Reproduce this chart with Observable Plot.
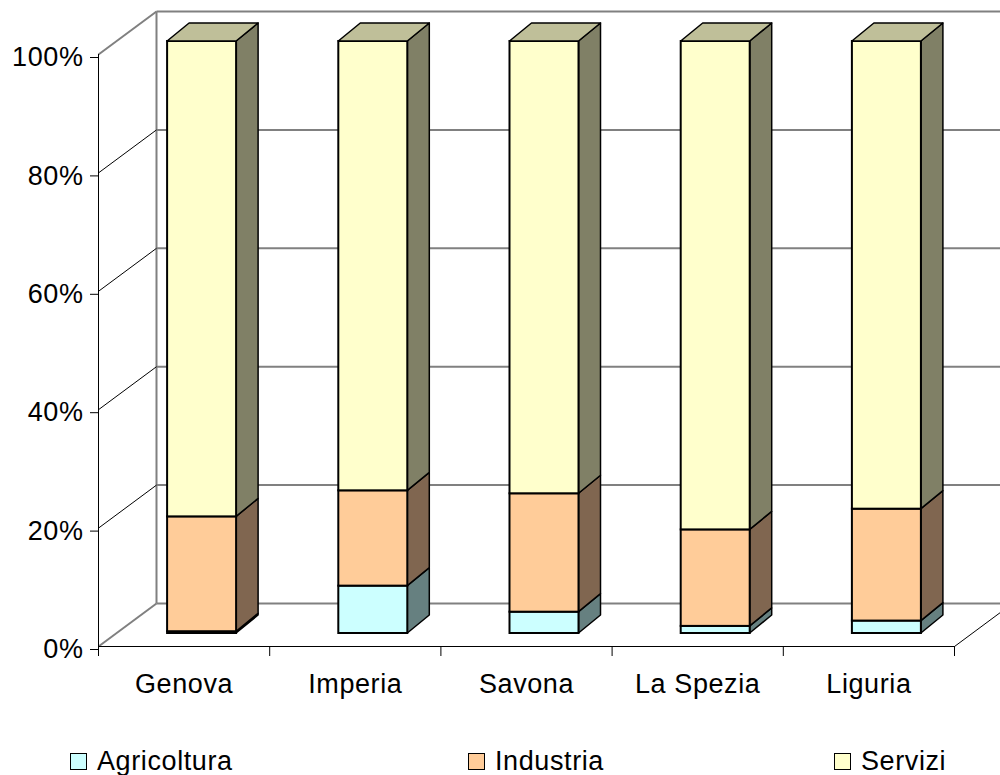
<!DOCTYPE html>
<html>
<head>
<meta charset="utf-8">
<script src="https://cdn.jsdelivr.net/npm/d3@7"></script>
<script src="https://cdn.jsdelivr.net/npm/@observablehq/plot@0.6"></script>
<style>
  html, body { margin: 0; padding: 0; background: #fff; overflow: hidden; }
  #chart svg text, #legend text { letter-spacing: 0.6px; }
</style>
</head>
<body>
<div id="chart"></div>
<div id="legend"></div>
<script>
// Occupati per settore di attività (composizione percentuale)
const regions = ["Genova", "Imperia", "Savona", "La Spezia", "Liguria"];
const sectors = ["Agricoltura", "Industria", "Servizi"];
const agricoltura = [0.3, 8.0, 3.6, 1.2, 2.1];
const industria = [19.4, 16.1, 20.0, 16.3, 18.9];
const servizi = [80.3, 75.9, 76.4, 82.5, 79.0];
const yTicks = [0, 20, 40, 60, 80, 100];

// Face shades: front, right side (darker), top (mid)
const frontColors = ["#CCFFFF", "#FFCC99", "#FFFFCC"];
const sideColors = ["#668080", "#806650", "#808066"];
const topColors = ["#99BFBF", "#BF9973", "#BFBF99"];

// Layout
const W = 1000, H = 740, ML = 98, MR = 46, MT = 54, MB = 94;
const FONT = "'Liberation Sans', Arial, sans-serif";

// Pixel offsets of the 3D projection expressed in data units
const ux = regions.length / (W - ML - MR);
const uy = 100 / (H - MT - MB);
const wall = {dx: 58 * ux, dy: 43 * uy};      // floor/back-wall depth
const face = {dx: 18 * ux, dy: 13 * uy};      // bar front plane
const depth = {dx: 22 * ux, dy: 18 * uy};     // bar thickness
const barW = 69 * ux;

// 100% stacked segments
const series = [agricoltura, industria, servizi];
const segments = [];
regions.forEach((r, i) => {
  const total = series.reduce((s, arr) => s + arr[i], 0);
  let acc = 0;
  series.forEach((arr, k) => {
    const v = arr[i] / total * 100;
    const cx = i + 0.5 + face.dx;
    segments.push({
      i, k, region: r, sector: sectors[k],
      xl: cx - barW / 2, xr: cx + barW / 2,
      lo: acc + face.dy, hi: acc + v + face.dy
    });
    acc += v;
  });
});

// Right-hand side faces (parallelograms with vertical edges)
const sideRows = segments.flatMap(s => [
  {key: `${s.i}-${s.k}`, k: s.k, x: s.xr, y1: s.lo, y2: s.hi},
  {key: `${s.i}-${s.k}`, k: s.k, x: s.xr + depth.dx, y1: s.lo + depth.dy, y2: s.hi + depth.dy}
]);
// Top faces of the stacks (parallelograms with horizontal edges)
const topRows = segments.filter(s => s.k === sectors.length - 1).flatMap(s => [
  {key: s.i, y: s.hi, x1: s.xl, x2: s.xr},
  {key: s.i, y: s.hi + depth.dy, x1: s.xl + depth.dx, x2: s.xr + depth.dx}
]);

const bounds = d3.range(regions.length + 1);
const centers = regions.map((_, i) => i + 0.5);
const inner = yTicks.filter(t => t > 0 && t < 100);
const edges = [0, 100];

const chart = Plot.plot({
  width: W, height: H,
  marginLeft: ML, marginRight: MR, marginTop: MT, marginBottom: MB,
  style: `font-family: ${FONT}; font-size: 27px; color: black; background: white;`,
  x: {type: "linear", domain: [0, regions.length], axis: null},
  y: {type: "linear", domain: [0, 100], axis: null},
  marks: [
    // back wall gridlines
    Plot.link(yTicks, {x1: wall.dx, x2: regions.length + wall.dx, y1: d => d + wall.dy, y2: d => d + wall.dy, stroke: "#808080", strokeWidth: 2}),
    Plot.link([0], {x1: wall.dx, x2: wall.dx, y1: wall.dy, y2: 100 + wall.dy, stroke: "#808080", strokeWidth: 2}),
    // side wall gridlines
    Plot.link(inner, {x1: 0, x2: wall.dx, y1: d => d, y2: d => d + wall.dy, stroke: "black", strokeWidth: 1}),
    Plot.link(edges, {x1: 0, x2: wall.dx, y1: d => d, y2: d => d + wall.dy, stroke: "#808080", strokeWidth: 2}),
    // floor front and right edges
    Plot.link([0], {x1: 0, x2: regions.length, y1: 0, y2: 0, stroke: "black", strokeWidth: 1.2}),
    Plot.link([0], {x1: regions.length, x2: regions.length + wall.dx, y1: 0, y2: wall.dy, stroke: "black", strokeWidth: 1}),
    // value axis
    Plot.ruleX([0], {y1: 0, y2: 100, stroke: "black", strokeWidth: 1}),
    Plot.axisY({ticks: yTicks, tickFormat: d => d + "%", tickSize: 8, tickPadding: 7, fontSize: 27, dy: 3, stroke: "black", fill: "black"}),
    // category axis
    Plot.axisX({ticks: bounds, tickSize: 10, tickFormat: () => "", stroke: "black"}),
    Plot.axisX({ticks: centers, tickSize: 0, tickPadding: 27, fontSize: 27, fill: "black", tickFormat: v => regions[Math.round(v - 0.5)]}),
    // bars: side faces, front faces, tops
    ...sectors.map((_, k) => Plot.areaY(sideRows.filter(d => d.k === k), {x: "x", y1: "y1", y2: "y2", z: "key", fill: sideColors[k], stroke: "black", strokeWidth: 1.5, strokeLinejoin: "round"})),
    ...sectors.map((_, k) => Plot.rect(segments.filter(d => d.k === k), {x1: "xl", x2: "xr", y1: "lo", y2: "hi", fill: frontColors[k], stroke: "black", strokeWidth: 2})),
    Plot.areaX(topRows, {y: "y", x1: "x1", x2: "x2", z: "key", fill: topColors[2], stroke: "black", strokeWidth: 1.5, strokeLinejoin: "round"})
  ]
});
document.getElementById("chart").appendChild(chart);

// Legend below the plot
const legendItems = [
  {label: sectors[0], color: frontColors[0], x: 70},
  {label: sectors[1], color: frontColors[1], x: 468},
  {label: sectors[2], color: frontColors[2], x: 834}
];
const lg = d3.select("#legend").append("svg")
  .attr("width", W).attr("height", 775 - H)
  .style("display", "block")
  .attr("font-family", FONT).attr("font-size", 27);
const item = lg.selectAll("g").data(legendItems).join("g")
  .attr("transform", d => `translate(${d.x},0)`);
item.append("rect").attr("x", 0.5).attr("y", 13.5).attr("width", 16).attr("height", 16)
  .attr("fill", d => d.color).attr("stroke", "black").attr("stroke-width", 1);
item.append("text").attr("x", 27).attr("y", 30).attr("fill", "black").text(d => d.label);
</script>
</body>
</html>
